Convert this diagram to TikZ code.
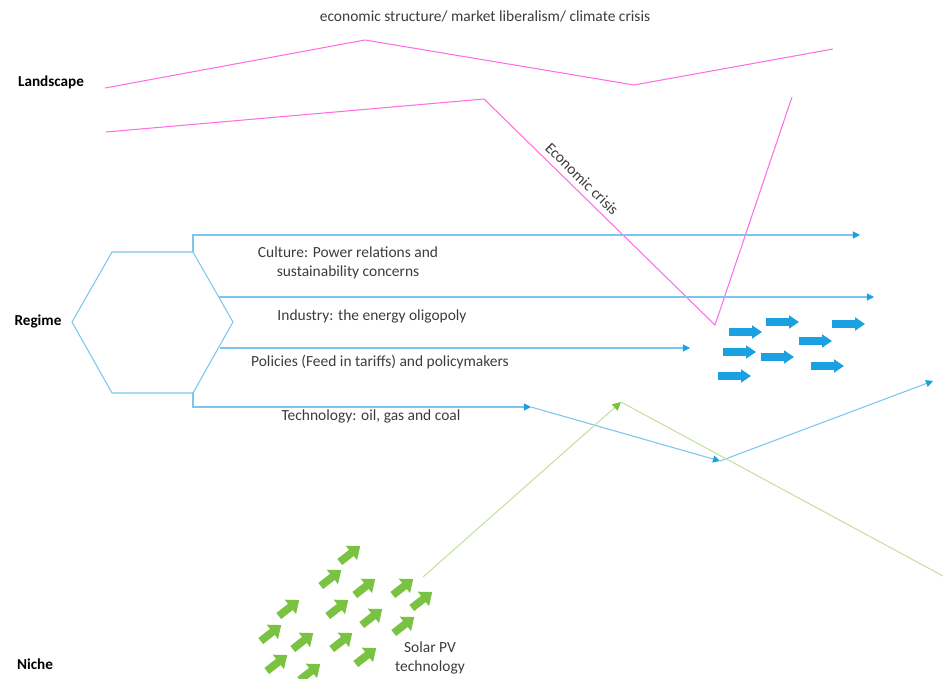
\documentclass[tikz,border=0pt]{standalone}
\usepackage{fontspec}
\setmainfont{Carlito}
\usetikzlibrary{arrows.meta}
\definecolor{landpink}{RGB}{255,110,228}
\definecolor{regblue}{RGB}{125,197,238}
\definecolor{tipblue}{RGB}{27,161,226}
\definecolor{nichegreen}{RGB}{122,194,66}
\definecolor{nicheline}{RGB}{196,225,160}
\definecolor{txtgray}{RGB}{60,60,60}
\tikzset{
  level/.style={font=\bfseries\fontsize{10.8}{13}\selectfont, text=black},
  lbl/.style={font=\fontsize{11}{13}\selectfont, text=txtgray, align=center},
  landline/.style={landpink, line width=0.75pt},
  regline/.style={regblue, line width=0.75pt},
  regarrow/.style={regline, -{Triangle[length=5pt,width=5pt,color=tipblue]}},
  nicheln/.style={nicheline, line width=0.75pt},
  nichearrow/.style={nicheln, -{Triangle[length=6pt,width=6pt,color=nichegreen]}},
  blockblue/.style={tipblue, line width=5pt, -{Triangle[length=7pt,width=9pt]}},
  blockgreen/.style={nichegreen, line width=5.5pt, -{Triangle[length=8pt,width=12.5pt]}}
}
\begin{document}
\begin{tikzpicture}[x=0.025cm, y=-0.025cm]
  \useasboundingbox (0,0) rectangle (943,679);
  % the landscape part
  \node[lbl] (toptext) at (485,16) {economic structure/ market liberalism/ climate crisis};
  \node[level] (landscape) at (51,82) {Landscape};
  \coordinate (l1) at (105,88);
  \coordinate (l2) at (365,40);
  \coordinate (l3) at (634,85);
  \coordinate (l4) at (833,49);
  \draw[landline] (l1) -- (l2) -- (l3) -- (l4);
  \coordinate (c1) at (106,132);
  \coordinate (c2) at (484,99);
  \coordinate (c3) at (715,325);
  \coordinate (c4) at (792,97);
  \draw[landline] (c1) -- (c2) -- node[lbl, sloped, above, pos=0.39, inner sep=4pt]{Economic crisis} (c3) -- (c4);
  % the regime part
  \node[level] (regime) at (38,321) {Regime};
  \coordinate (h1) at (72,322);
  \coordinate (h2) at (112,252);
  \coordinate (h3) at (193,252);
  \coordinate (h4) at (233,322);
  \coordinate (h5) at (193,393);
  \coordinate (h6) at (112,393);
  \draw[regline] (h1) -- (h2) -- (h3) -- (h4) -- (h5) -- (h6) -- cycle;
  \coordinate (cul) at (193,235);
  \coordinate (culend) at (860,235);
  \coordinate (ind) at (219,297);
  \coordinate (indend) at (874,297);
  \coordinate (pol) at (220,348);
  \coordinate (polend) at (690,348);
  \coordinate (tec) at (193,407);
  \coordinate (tecend) at (531,407);
  \coordinate (tecdip) at (720,461);
  \coordinate (tecout) at (933,381);
  \draw[regarrow] (h3) -- (cul) -- (culend);
  \draw[regarrow] (ind) -- (indend);
  \draw[regarrow] (pol) -- (polend);
  \draw[regarrow] (h5) -- (tec) -- (tecend);
  \draw[regarrow] (tecend) -- (tecdip);
  \draw[regarrow] (tecdip) -- (tecout);
  \node[lbl] (culture) at (348,263) {Culture: Power relations and\\sustainability concerns};
  \node[lbl] (industry) at (372,316) {Industry: the energy oligopoly};
  \node[lbl] (policies) at (380,362) {Policies (Feed in tariffs) and policymakers};
  \node[lbl] (technology) at (371,416) {Technology: oil, gas and coal};
  % blue block arrows
  \foreach \x/\y in {729/332, 766/322, 832/324, 723/352, 761/357, 799/341, 718/376, 811/366}
    \draw[blockblue] (\x,\y) -- ++(33,0);
  % the niche part
  \node[level] (niche) at (35,664) {Niche};
  \node[lbl] (solar) at (430,658) {Solar PV\\technology};
  \coordinate (g0) at (423,577);
  \coordinate (gtop) at (621,402);
  \coordinate (gout) at (943,576);
  \draw[nichearrow] (g0) -- (gtop);
  \draw[nicheln] (gtop) -- (gout);
  % green block arrows
  \foreach \x/\y in {350/554, 331/578, 365/587, 403/587, 422/600, 289/608, 338/608, 372/617,
                     404/625, 271/633, 303/641, 342/641, 366/656, 277/663, 310/672}
    \draw[blockgreen] ([shift={(142:13)}]\x,\y) -- ++(-38:26);
\end{tikzpicture}
\end{document}
